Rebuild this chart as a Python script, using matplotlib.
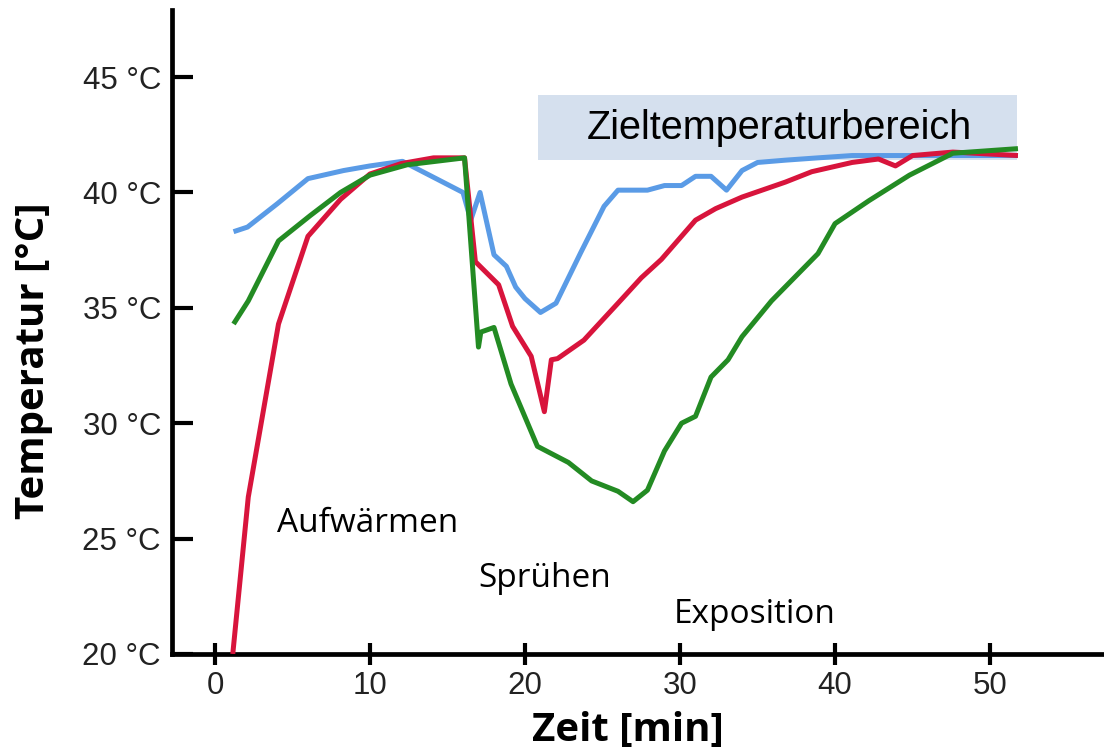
import matplotlib.pyplot as plt
from matplotlib.patches import Rectangle

# Temperaturverlauf
blue_t = [1.2, 2.1, 4, 6, 8.3, 10, 12.1, 16.0, 16.5, 17.1, 18.0, 18.8, 19.4, 20, 21.0, 22.0,
          23.6, 25.1, 26.0, 27.9, 29.0, 30.1, 31.0, 32.0, 33.0, 34.0, 35.0, 36.8, 38.9,
          41.1, 44.3, 51.8]
blue_temp = [38.3, 38.5, 39.5, 40.6, 40.95, 41.15, 41.35, 40.0, 38.8, 40.0, 37.3, 36.8, 35.9,
             35.4, 34.8, 35.2, 37.4, 39.4, 40.1, 40.1, 40.3, 40.3, 40.7, 40.7, 40.1, 40.95,
             41.3, 41.4, 41.5, 41.6, 41.6, 41.6]

red_t = [1.15, 2.15, 4.1, 6.0, 8.1, 10.0, 12, 14.1, 16.1, 16.8, 18.3, 19.2, 20.4, 21.25,
         21.7, 22.1, 23.8, 26.0, 27.5, 28.8, 31.0, 32.3, 34.0, 36.8, 38.5, 41.1, 42.8,
         43.9, 45.0, 47.6, 51.8]
red_temp = [20.0, 26.8, 34.3, 38.1, 39.7, 40.8, 41.25, 41.5, 41.5, 37.0, 36.0, 34.2, 32.9,
            30.5, 32.75, 32.8, 33.6, 35.2, 36.3, 37.1, 38.8, 39.3, 39.8, 40.45, 40.9, 41.3,
            41.45, 41.15, 41.6, 41.75, 41.6]

green_t = [1.2, 2.15, 4.1, 6.15, 8.1, 10.0, 12.4, 16.1, 17.0, 17.15, 18.0, 19.1, 20.8, 22.8,
           24.3, 26.0, 26.97, 27.9, 29.0, 30.1, 31.0, 32.0, 33.1, 34.0, 35.9, 38.9, 40.0,
           42.2, 44.8, 47.6, 51.8]
green_temp = [34.3, 35.3, 37.9, 39.0, 40.0, 40.75, 41.2, 41.5, 33.3, 33.95, 34.15, 31.7, 29.0,
              28.3, 27.5, 27.05, 26.6, 27.1, 28.8, 30.0, 30.3, 32.0, 32.75, 33.75, 35.3,
              37.35, 38.65, 39.65, 40.75, 41.7, 41.9]

# Zieltemperaturbereich (Zeit von/bis, Temperatur von/bis)
target_t = [20.86, 51.72]
target_temp = [41.4, 44.22]

x_ticks = [0, 10, 20, 30, 40, 50]
y_ticks = [20, 25, 30, 35, 40, 45]
y_tick_labels = ['20 °C', '25 °C', '30 °C', '35 °C', '40 °C', '45 °C']

phases = ['Aufwärmen', 'Sprühen', 'Exposition']
phase_t = [4.0, 17.0, 29.6]
phase_temp = [25.3, 22.9, 21.35]

fig = plt.figure(figsize=(11.04, 7.53), dpi=100)
ax = fig.add_axes([0.1558, 0.1315, 0.8442, 0.855])

ax.add_patch(Rectangle((target_t[0], target_temp[0]), target_t[1] - target_t[0],
                       target_temp[1] - target_temp[0], facecolor='#d5e0ee',
                       edgecolor='none', zorder=1))
ax.text(sum(target_t) / 2 + 0.1, target_temp[0] + 0.9, 'Zieltemperaturbereich',
        fontsize=28.5, family='Liberation Sans', ha='center', va='baseline', zorder=2)

line_kw = dict(linewidth=3.6, solid_joinstyle='round', solid_capstyle='butt')
ax.plot(blue_t, blue_temp, color='#5a9be6', zorder=3, **line_kw)
ax.plot(red_t, red_temp, color='#d8143c', zorder=4, **line_kw)
ax.plot(green_t, green_temp, color='#238b23', zorder=5, **line_kw)

for name, t, temp in zip(phases, phase_t, phase_temp):
    ax.text(t, temp, name, fontsize=24, family='Open Sans', ha='left', va='baseline')

ax.set_xlim(-2.77, 57.35)
ax.set_ylim(20, 47.9)
ax.set_xticks(x_ticks)
ax.set_yticks(y_ticks)
ax.set_yticklabels(y_tick_labels)

for side in ['top', 'right']:
    ax.spines[side].set_visible(False)
for side in ['left', 'bottom']:
    ax.spines[side].set_linewidth(3.4)

ax.tick_params(axis='x', direction='inout', length=16, width=3, pad=4,
               labelsize=22.5, labelcolor='#222222')
ax.tick_params(axis='y', direction='in', length=15, width=3, pad=8,
               labelsize=22.5, labelcolor='#222222')
for lab in ax.get_xticklabels() + ax.get_yticklabels():
    lab.set_family('Liberation Sans')

ax.set_xlabel('Zeit [min]', fontsize=29, fontweight='bold', family='Open Sans')
ax.set_ylabel('Temperatur [°C]', fontsize=29, fontweight='bold', family='Open Sans')
ax.xaxis.set_label_coords(0.489, -0.088)
ax.yaxis.set_label_coords(-0.128, 0.456)

fig.savefig('out.png', dpi=100)
